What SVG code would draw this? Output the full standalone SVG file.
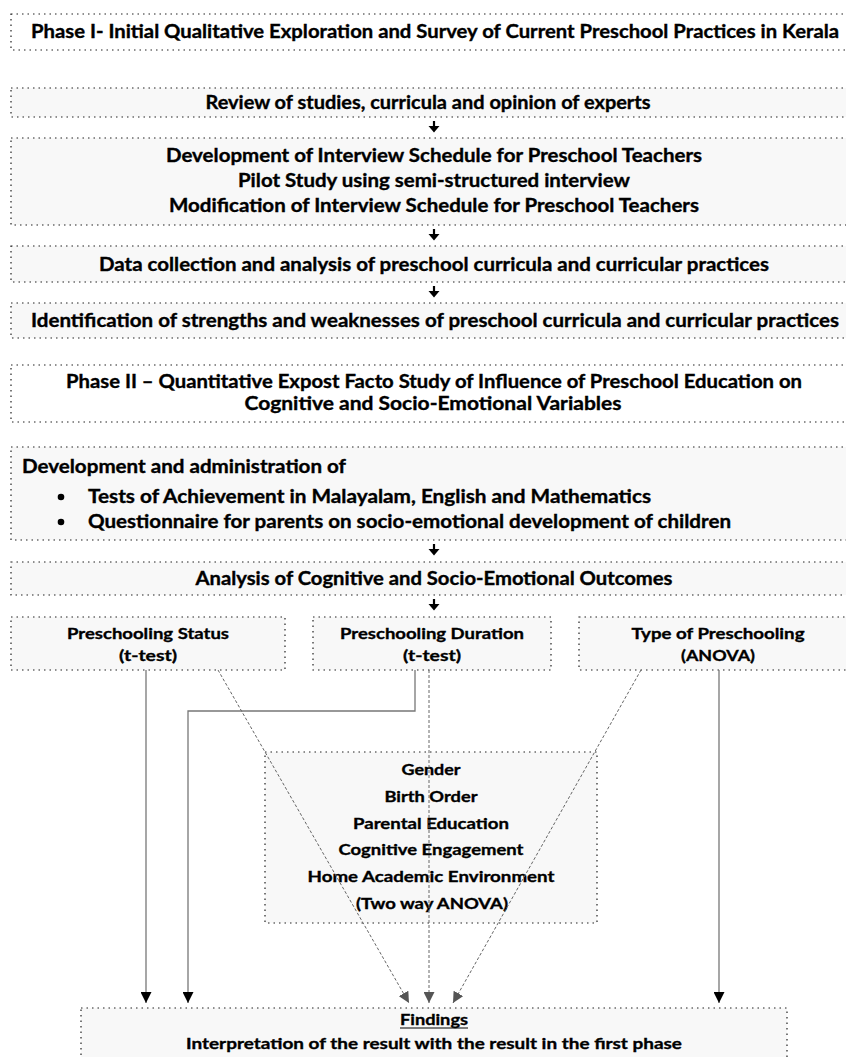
<svg xmlns="http://www.w3.org/2000/svg" width="846" height="1057" viewBox="0 0 846 1057">
<defs>
<style>
.bx{fill:#f8f8f8;stroke:#222;stroke-width:1.2;stroke-dasharray:1.5 4}
.ph{fill:#ffffff;stroke:#222;stroke-width:1.2;stroke-dasharray:1.5 4}
.t{font-family:Lato,"Open Sans","Liberation Sans",sans-serif;font-weight:bold;fill:#000;stroke:#000;stroke-width:0.35;text-anchor:middle}
.st{text-anchor:start}
.l{font-size:18.5px}
.s{font-size:16px}
.sl{stroke:#777;stroke-width:1.3;fill:none}
.dl{stroke:#666;stroke-width:1;stroke-dasharray:3 2;fill:none}
</style>
<marker id="ab" viewBox="0 0 10 10" refX="10" refY="5" markerWidth="11" markerHeight="11" markerUnits="userSpaceOnUse" orient="auto"><path d="M0,0 L10,5 L0,10 z" fill="#000"/></marker>
<marker id="ag" viewBox="0 0 10 10" refX="10" refY="5" markerWidth="11" markerHeight="11" markerUnits="userSpaceOnUse" orient="auto"><path d="M0,0 L10,5 L0,10 z" fill="#555"/></marker>
<g id="sa"><line x1="0" y1="0" x2="0" y2="6" stroke="#000" stroke-width="2.2"/><path d="M-5.5,5 L5.5,5 L0,11.5 z" fill="#000"/></g>
</defs>
<rect width="846" height="1057" fill="#fff"/>

<g id="phase1"><rect class="ph" x="11" y="14" width="850" height="36"/><text class="t l" x="435" y="38" textLength="808" lengthAdjust="spacingAndGlyphs">Phase I- Initial Qualitative Exploration and Survey of Current Preschool Practices in Kerala</text></g>

<g id="review"><rect class="bx" x="11" y="88" width="850" height="29"/><text class="t l" x="428" y="109" textLength="445" lengthAdjust="spacingAndGlyphs">Review of studies, curricula and opinion of experts</text></g>

<g id="interview"><rect class="bx" x="11" y="138" width="850" height="87"/>
<text class="t l" x="434" y="162" textLength="536" lengthAdjust="spacingAndGlyphs">Development of Interview Schedule for Preschool Teachers</text>
<text class="t l" x="434" y="187" textLength="392" lengthAdjust="spacingAndGlyphs">Pilot Study using semi-structured interview</text>
<text class="t l" x="434" y="212" textLength="530" lengthAdjust="spacingAndGlyphs">Modification of Interview Schedule for Preschool Teachers</text></g>

<g id="datacollection"><rect class="bx" x="11" y="246" width="850" height="36"/><text class="t l" x="434" y="271" textLength="670" lengthAdjust="spacingAndGlyphs">Data collection and analysis of preschool curricula and curricular practices</text></g>

<g id="identification"><rect class="bx" x="11" y="303" width="850" height="35"/><text class="t l" x="435" y="327" textLength="808" lengthAdjust="spacingAndGlyphs">Identification of strengths and weaknesses of preschool curricula and curricular practices</text></g>

<g id="phase2"><rect class="ph" x="11" y="365" width="850" height="57"/>
<text class="t l" x="434" y="388" textLength="736" lengthAdjust="spacingAndGlyphs">Phase II – Quantitative Expost Facto Study of Influence of Preschool Education on</text>
<text class="t l" x="433" y="410" textLength="377" lengthAdjust="spacingAndGlyphs">Cognitive and Socio-Emotional Variables</text></g>

<g id="development"><rect class="bx" x="11" y="447" width="850" height="93"/>
<text class="t l st" x="22" y="473" textLength="324" lengthAdjust="spacingAndGlyphs">Development and administration of</text>
<circle cx="61" cy="497" r="3.3" fill="#000"/>
<text class="t l st" x="88" y="503" textLength="563" lengthAdjust="spacingAndGlyphs">Tests of Achievement in Malayalam, English and Mathematics</text>
<circle cx="61" cy="522" r="3.3" fill="#000"/>
<text class="t l st" x="88" y="528" textLength="643" lengthAdjust="spacingAndGlyphs">Questionnaire for parents on socio-emotional development of children</text></g>

<g id="analysis"><rect class="bx" x="11" y="562" width="850" height="33"/><text class="t l" x="434" y="585" textLength="477" lengthAdjust="spacingAndGlyphs">Analysis of Cognitive and Socio-Emotional Outcomes</text></g>

<g id="status"><rect class="bx" x="11" y="617" width="274" height="53"/>
<text class="t s" x="148" y="639" textLength="162" lengthAdjust="spacingAndGlyphs">Preschooling Status</text>
<text class="t s" x="148" y="661" textLength="58" lengthAdjust="spacingAndGlyphs">(t-test)</text></g>

<g id="duration"><rect class="bx" x="313" y="617" width="238" height="53"/>
<text class="t s" x="432" y="639" textLength="184" lengthAdjust="spacingAndGlyphs">Preschooling Duration</text>
<text class="t s" x="432" y="661" textLength="58" lengthAdjust="spacingAndGlyphs">(t-test)</text></g>

<g id="type"><rect class="bx" x="579" y="617" width="280" height="53"/>
<text class="t s" x="718" y="639" textLength="173" lengthAdjust="spacingAndGlyphs">Type of Preschooling</text>
<text class="t s" x="718" y="661" textLength="74" lengthAdjust="spacingAndGlyphs">(ANOVA)</text></g>

<g id="covariates"><rect class="bx" x="265" y="752" width="332" height="171"/>
<text class="t s" x="431" y="775" textLength="59" lengthAdjust="spacingAndGlyphs">Gender</text>
<text class="t s" x="431" y="802" textLength="93" lengthAdjust="spacingAndGlyphs">Birth Order</text>
<text class="t s" x="431" y="829" textLength="156" lengthAdjust="spacingAndGlyphs">Parental Education</text>
<text class="t s" x="431" y="855" textLength="185" lengthAdjust="spacingAndGlyphs">Cognitive Engagement</text>
<text class="t s" x="431" y="882" textLength="247" lengthAdjust="spacingAndGlyphs">Home Academic Environment</text>
<text class="t s" x="432" y="909" textLength="152" lengthAdjust="spacingAndGlyphs">(Two way ANOVA)</text></g>

<g id="findings"><rect class="bx" x="81" y="1008" width="706" height="60"/>
<text class="t s" x="434" y="1025" textLength="68" lengthAdjust="spacingAndGlyphs">Findings</text>
<line x1="400" y1="1028" x2="468" y2="1028" stroke="#000" stroke-width="1.2"/>
<text class="t s" x="434" y="1049" textLength="496" lengthAdjust="spacingAndGlyphs">Interpretation of the result with the result in the first phase</text></g>

<g id="connectors">
<use href="#sa" x="434" y="121"/>
<use href="#sa" x="434" y="229"/>
<use href="#sa" x="434" y="286"/>
<use href="#sa" x="434" y="544"/>
<use href="#sa" x="434" y="599"/>
<line class="sl" x1="146" y1="670" x2="146" y2="1003" marker-end="url(#ab)"/>
<polyline class="sl" points="415,670 415,711 188,711 188,1003" marker-end="url(#ab)"/>
<line class="sl" x1="719" y1="670" x2="719" y2="1003" marker-end="url(#ab)"/>
<line class="dl" x1="429" y1="670" x2="429" y2="1003" marker-end="url(#ag)"/>
<line class="dl" x1="218" y1="670" x2="409" y2="1003" marker-end="url(#ag)"/>
<line class="dl" x1="641" y1="670" x2="453" y2="1003" marker-end="url(#ag)"/>
</g>
</svg>
